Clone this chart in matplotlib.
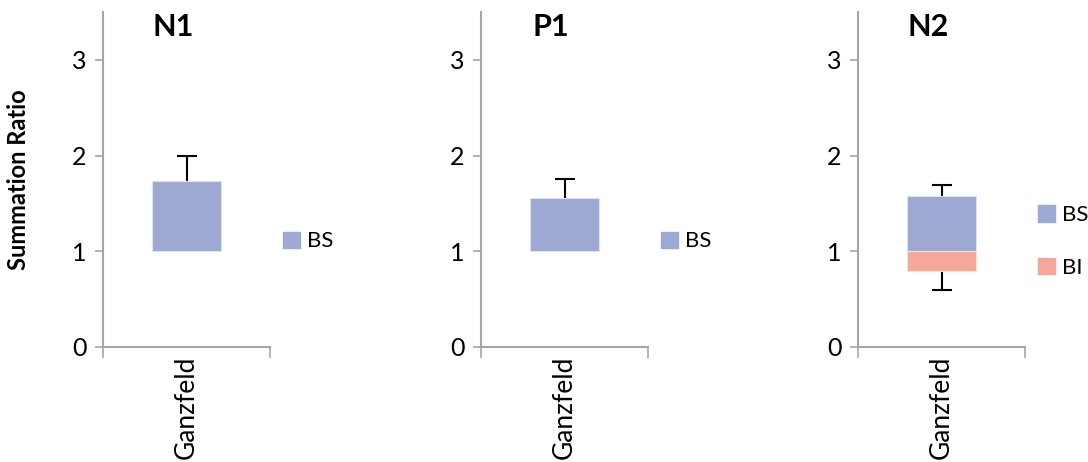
import matplotlib.pyplot as plt

plt.rcParams['font.family'] = ['Lato', 'DejaVu Sans']

panels = ['N1', 'P1', 'N2']
category = 'Ganzfeld'
bs_top = [1.73, 1.56, 1.58]
bs_err = [0.27, 0.20, 0.11]
bi_bottom = [None, None, 0.79]
bi_err = [None, None, 0.19]
baseline = 1.0

bs_color = '#9DA8D3'
bi_color = '#F5A799'
axis_grey = '#A6A6A6'

fig = plt.figure(figsize=(10.88, 4.62), dpi=100)
lefts = [103 / 1088, 481 / 1088, 858 / 1088]

for i, name in enumerate(panels):
    ax = fig.add_axes([lefts[i], 1 - 347 / 462, 167 / 1088, 335 / 462])
    ax.set_xlim(0, 1)
    ax.set_ylim(0, 3.5)
    w = 0.41
    ax.bar(0.5, bs_top[i] - baseline, bottom=baseline, width=w, color=bs_color,
           edgecolor='#DDE2F2', linewidth=0.8, zorder=2)
    # symmetric error bar, lower half hidden behind the bar (as in Excel)
    ax.errorbar(0.5, bs_top[i], yerr=bs_err[i], fmt='none', ecolor='black',
                elinewidth=1.5, capsize=7, capthick=1.5, zorder=1)
    handles = [plt.Rectangle((0, 0), 1, 1, color=bs_color)]
    labels = ['BS']
    if bi_bottom[i] is not None:
        ax.bar(0.5, baseline - bi_bottom[i], bottom=bi_bottom[i], width=w, color=bi_color,
               edgecolor='#FBE0DA', linewidth=0.8, zorder=2)
        ax.errorbar(0.5, bi_bottom[i], yerr=bi_err[i], fmt='none', ecolor='black',
                    elinewidth=1.5, capsize=7, capthick=1.5, zorder=1)
        handles.append(plt.Rectangle((0, 0), 1, 1, color=bi_color))
        labels.append('BI')
        ax.legend(handles, labels, loc='center left', bbox_to_anchor=(1.0, 0.315),
                  frameon=False, fontsize=16, handlelength=0.75, handleheight=0.75,
                  handletextpad=0.3, labelspacing=1.45, borderaxespad=0.2)
    else:
        ax.legend(handles, labels, loc='center left', bbox_to_anchor=(1.0, 0.315),
                  frameon=False, fontsize=16, handlelength=0.75, handleheight=0.75,
                  handletextpad=0.3, borderaxespad=0.2)

    for s in ['top', 'right']:
        ax.spines[s].set_visible(False)
    for s in ['left', 'bottom']:
        ax.spines[s].set_color(axis_grey)
        ax.spines[s].set_linewidth(1.5)
    ax.set_yticks([0, 1, 2, 3])
    ax.tick_params(axis='y', direction='out', length=6, width=1.2, color=axis_grey,
                   labelsize=18, pad=6)
    ax.set_xticks([0, 1])
    ax.set_xticklabels(['', ''])
    ax.tick_params(axis='x', direction='out', length=8, width=1.2, color=axis_grey)
    ax.text(0.5, -0.025, category, transform=ax.transAxes, rotation=90,
            ha='center', va='top', fontsize=19)
    ax.text(0.42, 0.955, name, transform=ax.transAxes, ha='center', va='center',
            fontsize=22, fontweight='bold')
    if i == 0:
        ax.set_ylabel('Summation Ratio', fontsize=17, fontweight='bold', labelpad=30)

fig.savefig('out.png', dpi=100)
